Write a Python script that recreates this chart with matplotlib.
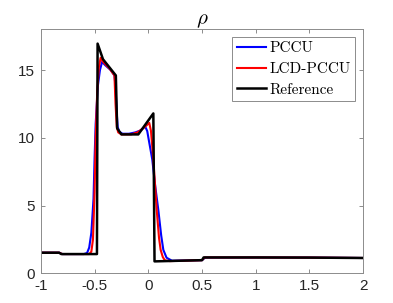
import matplotlib.pyplot as plt
import numpy as np

# reference solution
x_ref = [-1.0, -0.83, -0.81, -0.478, -0.472, -0.422, -0.302, -0.29, -0.25,
         -0.093, 0.047, 0.058, 0.5, 0.515, 1.0, 1.5, 2.0]
rho_ref = [1.52, 1.52, 1.42, 1.42, 16.95, 15.8, 14.6, 10.7, 10.25,
           10.25, 11.8, 0.88, 0.97, 1.17, 1.17, 1.16, 1.13]

# PCCU
x_pccu = [-1.0, -0.83, -0.80, -0.60, -0.57, -0.55, -0.53, -0.51, -0.50, -0.49,
          -0.47, -0.45, -0.43, -0.40, -0.35, -0.315, -0.305, -0.295, -0.285,
          -0.27, -0.24, -0.18, -0.12, -0.07, -0.03, -0.01, 0.01, 0.037, 0.065,
          0.093, 0.12, 0.14, 0.17, 0.22, 0.5, 0.53, 1.0, 1.5, 2.0]
rho_pccu = [1.52, 1.52, 1.42, 1.42, 1.5, 1.9, 3.0, 5.5, 8.5, 11.0,
            13.8, 15.0, 15.6, 15.35, 15.0, 14.6, 13.8, 12.0, 10.8,
            10.45, 10.3, 10.3, 10.4, 10.55, 10.85, 10.5, 9.6, 8.4, 6.4,
            4.7, 2.8, 1.73, 1.15, 0.93, 0.97, 1.16, 1.17, 1.16, 1.13]

# LCD-PCCU
x_lcd = [-1.0, -0.83, -0.80, -0.55, -0.53, -0.515, -0.50, -0.49, -0.475,
         -0.46, -0.444, -0.42, -0.36, -0.315, -0.305, -0.293, -0.28, -0.25,
         -0.16, -0.10, -0.04, 0.009, 0.025, 0.047, 0.078, 0.10, 0.115, 0.135,
         0.155, 0.2, 0.5, 0.525, 1.0, 1.5, 2.0]
rho_lcd = [1.52, 1.52, 1.42, 1.42, 1.6, 2.5, 6.0, 10.0, 13.5,
           15.2, 15.9, 15.6, 15.1, 14.6, 12.5, 10.8, 10.4, 10.25,
           10.25, 10.4, 10.75, 11.1, 10.5, 8.4, 4.7, 2.6, 1.73, 1.2,
           0.95, 0.9, 0.97, 1.17, 1.17, 1.16, 1.13]

xticks = [-1, -0.5, 0, 0.5, 1, 1.5, 2]
xticklabels = ['-1', '-0.5', '0', '0.5', '1', '1.5', '2']
yticks = [0, 5, 10, 15]

plt.rcParams['mathtext.fontset'] = 'cm'

fig = plt.figure(figsize=(3.93, 3.03), dpi=100, facecolor='white')
ax = fig.add_axes([0.104, 0.098, 0.82, 0.805])

ax.plot(x_pccu, rho_pccu, color='#0000ff', linewidth=1.5, label='PCCU')
ax.plot(x_lcd, rho_lcd, color='#ff0000', linewidth=1.5, label='LCD-PCCU')
ax.plot(x_ref, rho_ref, color='black', linewidth=1.8, label='Reference')

ax.set_xlim(-1, 2)
ax.set_ylim(0, 18)
ax.set_xticks(xticks)
ax.set_xticklabels(xticklabels)
ax.set_yticks(yticks)

for s in ax.spines.values():
    s.set_color('#8c8c8c')
    s.set_linewidth(0.7)
ax.tick_params(direction='in', length=3, width=0.7, color='#8c8c8c',
               top=True, right=True, labelsize=11, labelcolor='#262626', pad=4)
for lab in ax.get_xticklabels() + ax.get_yticklabels():
    lab.set_fontfamily('Liberation Sans')

ax.set_title(r'$\rho$', fontsize=15, pad=4)

leg = ax.legend(loc='upper right', prop={'family': 'cmr10', 'size': 11},
                handlelength=1.9, handletextpad=0.25, borderpad=0.3,
                labelspacing=0.45, borderaxespad=0.5, fancybox=False,
                framealpha=1, edgecolor='#8c8c8c')
leg.get_frame().set_linewidth(0.7)

fig.savefig('out.png', dpi=100)
